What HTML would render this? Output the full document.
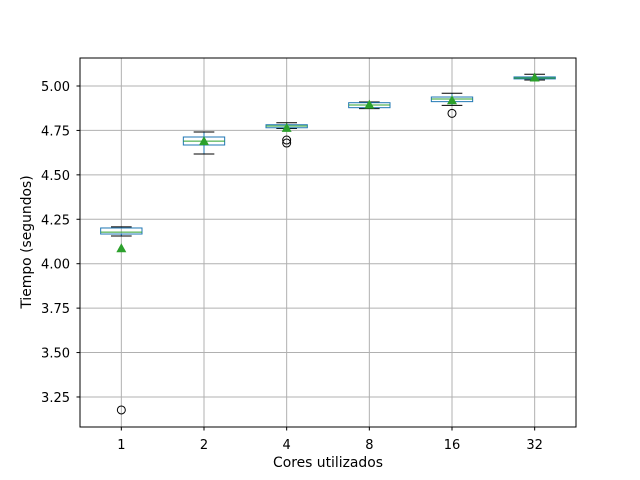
<!DOCTYPE html>
<html><head><meta charset="utf-8"><style>body{margin:0;background:#fff}svg{display:block;font-family:"DejaVu Sans","Liberation Sans",sans-serif}</style></head>
<body>
<svg id="chart" width="640" height="480" viewBox="0 0 640 480">
<rect width="640" height="480" fill="#fff"/>
<g id="grid"></g><g id="marks"></g><g id="axes"></g>
<text x="328" y="467" font-size="13.9" text-anchor="middle">Cores utilizados</text>
<text transform="translate(31,242) rotate(-90)" font-size="13.9" text-anchor="middle">Tiempo (segundos)</text>
</svg>
<script>
const categories=["1","2","4","8","16","32"];
const q1=[4.167,4.668,4.765,4.878,4.912,5.040];
const q3=[4.201,4.713,4.782,4.906,4.938,5.051];
const medians=[4.178,4.690,4.775,4.893,4.927,5.045];
const whiskLo=[4.156,4.617,4.761,4.873,4.891,5.034];
const whiskHi=[4.207,4.741,4.793,4.910,4.959,5.066];
const means=[4.087,4.690,4.764,4.895,4.920,5.048];
const outliers=[[3.177],[],[4.696,4.679],[],[4.846],[]];
const yTicks=[3.25,3.50,3.75,4.00,4.25,4.50,4.75,5.00];
const L=80,R=576,T=58,B=427;
const step=(R-L)/categories.length;
const x=i=>L+step*(i+0.5);
const y=v=>86+(5-v)*177.7;
const NS="http://www.w3.org/2000/svg";
function mk(p,tag,a){const e=document.createElementNS(NS,tag);for(const k in a)e.setAttribute(k,a[k]);p.appendChild(e);return e;}
const grid=document.getElementById('grid'),marks=document.getElementById('marks'),axes=document.getElementById('axes');
yTicks.forEach(v=>{
 const g=mk(grid,'line',{x1:L,x2:R,y1:y(v),y2:y(v),stroke:'#b0b0b0','stroke-width':1});
 
 
 mk(axes,'line',{x1:L-3.5,x2:L,y1:y(v),y2:y(v),stroke:'#000'});
 const t=mk(axes,'text',{x:L-10,y:y(v)+5,'font-size':13,'text-anchor':'end'});t.textContent=v.toFixed(2);
 
 
});
categories.forEach((c,i)=>{
 const cx=x(i);
 const g=mk(grid,'line',{x1:cx,x2:cx,y1:T,y2:B,stroke:'#b0b0b0','stroke-width':1});
 
 
 mk(axes,'line',{x1:cx,x2:cx,y1:B,y2:B+3.5,stroke:'#000'});
 const t=mk(axes,'text',{x:cx,y:B+22,'font-size':13,'text-anchor':'middle'});t.textContent=c;
 
 
 const bw=step*0.5,cw=step*0.25;
 const grp=mk(marks,'g',{});
 
 
 mk(grp,'line',{x1:cx,x2:cx,y1:y(q3[i]),y2:y(whiskHi[i]),stroke:'#1f77b4'});
 mk(grp,'line',{x1:cx,x2:cx,y1:y(q1[i]),y2:y(whiskLo[i]),stroke:'#1f77b4'});
 mk(grp,'line',{x1:cx-cw/2,x2:cx+cw/2,y1:y(whiskHi[i]),y2:y(whiskHi[i]),stroke:'#000'});
 mk(grp,'line',{x1:cx-cw/2,x2:cx+cw/2,y1:y(whiskLo[i]),y2:y(whiskLo[i]),stroke:'#000'});
 mk(grp,'rect',{x:cx-bw/2,y:y(q3[i]),width:bw,height:Math.max(1,y(q1[i])-y(q3[i])),fill:'none',stroke:'#1f77b4'});
 mk(grp,'line',{x1:cx-bw/2,x2:cx+bw/2,y1:y(medians[i]),y2:y(medians[i]),stroke:'#2ca02c'});
 const my=y(means[i]);
 mk(grp,'polygon',{points:`${cx},${my-5} ${cx-5},${my+4} ${cx+5},${my+4}`,fill:'#2ca02c'});
 outliers[i].forEach(v=>{mk(grp,'circle',{cx:cx,cy:y(v),r:4,fill:'none',stroke:'#000'});});
});
mk(axes,'rect',{x:L,y:T,width:R-L,height:B-T,fill:'none',stroke:'#000','stroke-width':1});
</script>
</body></html>
